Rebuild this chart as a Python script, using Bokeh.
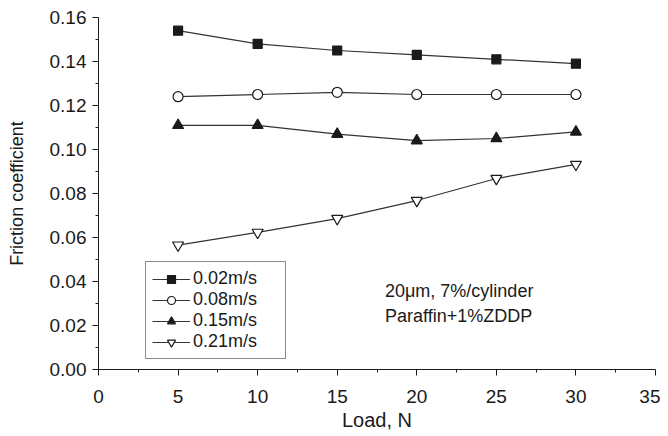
from bokeh.plotting import figure
from bokeh.models import Legend, LegendItem, Label, FixedTicker, NumeralTickFormatter
from bokeh.embed import file_html
from bokeh.resources import INLINE

load = [5, 10, 15, 20, 25, 30]
v002 = [0.154, 0.148, 0.145, 0.143, 0.141, 0.139]
v008 = [0.124, 0.125, 0.126, 0.125, 0.125, 0.125]
v015 = [0.111, 0.111, 0.107, 0.104, 0.105, 0.108]
v021 = [0.0565, 0.0623, 0.0686, 0.0768, 0.0868, 0.0932]
labels = ["0.02m/s", "0.08m/s", "0.15m/s", "0.21m/s"]
x_ticks = [0, 5, 10, 15, 20, 25, 30, 35]
y_ticks = [0.00, 0.02, 0.04, 0.06, 0.08, 0.10, 0.12, 0.14, 0.16]

FONT = "Liberation Sans"
INK = "#1a1a1a"

p = figure(width=660, height=436, output_backend="svg", toolbar_location=None,
           x_range=(0, 35), y_range=(0, 0.16),
           min_border_left=98, min_border_right=5, min_border_top=17, min_border_bottom=67)
p.grid.visible = False
p.outline_line_color = None

for ax in (p.xaxis[0], p.yaxis[0]):
    ax.axis_line_color = INK
    ax.major_tick_line_color = INK
    ax.minor_tick_line_color = INK
    ax.major_tick_out = 6
    ax.major_tick_in = 0
    ax.minor_tick_out = 3
    ax.minor_tick_in = 0
    ax.major_label_text_font = FONT
    ax.major_label_text_font_size = "19px"
    ax.major_label_text_color = INK
    ax.axis_label_text_font = FONT
    ax.axis_label_text_font_style = "normal"
    ax.axis_label_text_color = INK

p.xaxis.axis_label_text_font_size = "20px"
p.yaxis.axis_label_text_font_size = "18px"
p.xaxis.ticker = FixedTicker(ticks=x_ticks, minor_ticks=[x + 2.5 for x in x_ticks[:-1]])
p.yaxis.ticker = FixedTicker(ticks=y_ticks, minor_ticks=[round(y + 0.01, 3) for y in y_ticks[:-1]])
p.yaxis.formatter = NumeralTickFormatter(format="0.00")
p.xaxis.axis_label = "Load, N"
p.yaxis.axis_label = "Friction coefficient"
p.xaxis.major_label_standoff = 14
p.xaxis.axis_label_standoff = 3
p.yaxis.major_label_standoff = 6
p.yaxis.axis_label_standoff = 20

series = [v002, v008, v015, v021]
markers = ["square", "circle", "triangle", "inverted_triangle"]
fills = [INK, "white", INK, "white"]
sizes = [9, 10, 11, 11]
items = []
for vals, mk, fc, sz, lab in zip(series, markers, fills, sizes, labels):
    ln = p.line(load, vals, line_color="#333333", line_width=1.2)
    sc = p.scatter(load, vals, marker=mk, size=sz, fill_color=fc, line_color=INK, line_width=1.2)
    items.append(LegendItem(label=lab, renderers=[ln, sc]))

legend = Legend(items=items, location=(47, 10), border_line_color=INK, border_line_width=1,
                label_text_font=FONT, label_text_font_size="18px", label_text_color=INK,
                glyph_width=38, glyph_height=20, label_height=20, label_width=86,
                spacing=0, padding=6, margin=0, label_standoff=3, background_fill_alpha=1)
p.add_layout(legend, "center")

p.add_layout(Label(x=18, y=0.0359, text="20μm, 7%/cylinder", text_font=FONT,
                   text_font_size="18px", text_color=INK, text_baseline="middle"))
p.add_layout(Label(x=18, y=0.0245, text="Paraffin+1%ZDDP", text_font=FONT,
                   text_font_size="18px", text_color=INK, text_baseline="middle"))

open("out.html", "w").write(file_html(p, INLINE))
